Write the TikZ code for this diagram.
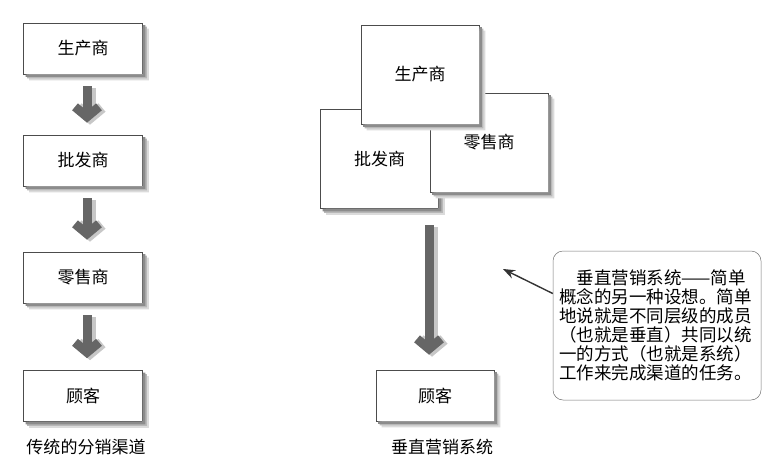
\documentclass[tikz,border=0pt]{standalone}
\usepackage{fontspec}
\setmainfont{Noto Sans CJK SC}
\usetikzlibrary{arrows.meta,positioning}

% soft shadow band along the right and lower edge of a node
\newcommand{\shadowof}[1]{%
  \foreach \sw/\sc in {6pt/black!14,4pt/black!28,2.5pt/black!45}
    \fill[\sc] ([yshift=-\sw]#1.north east) -- ([xshift=\sw,yshift=-\sw]#1.north east)
      -- ([xshift=\sw,yshift=-\sw]#1.south east) -- ([xshift=\sw,yshift=-\sw]#1.south west)
      -- ([xshift=\sw]#1.south west) -- (#1.south east) -- cycle;}

\begin{document}
\begin{tikzpicture}
  [x=1pt,y=1pt,font=\fontsize{17}{19}\selectfont,
   every node/.style={inner sep=0pt},
   >={Straight Barb[length=10pt,width=24pt]}]
  \tikzstyle{box} = [draw=black!70,line width=.6pt,fill=white,minimum width=119pt,minimum height=51pt]
  \tikzstyle{bigbox} = [box,minimum width=118pt,minimum height=99pt]
  \tikzstyle{flow} = [draw=black!60,line width=9pt,->,line join=miter,
     preaction={draw=black!22,line width=11pt,->,transform canvas={xshift=3pt,yshift=-2pt}}]
  \useasboundingbox (0,0) rectangle (779,-471);

  % traditional channel
  \node[box] (p1) at (83,-48.5)  {生产商};
  \node[box] (p2) at (83,-160.5) {批发商};
  \node[box] (p3) at (83,-277.5) {零售商};
  \node[box] (p4) at (83,-396)   {顾客};
  \node (cap1) at (86,-447) {传统的分销渠道};
  \foreach \n in {p1,p2,p3,p4} \shadowof{\n};

  \foreach \source /\dest in {p1/p2,p2/p3,p3/p4}
    \draw[flow,shorten <=12pt,shorten >=12pt] ([xshift=4pt]\source.south) -- ([xshift=4pt]\dest.north);

  % vertical marketing system
  \node[bigbox] (w2) at (379.5,-159) {批发商};
  \shadowof{w2}
  \node[bigbox] (r2) at (489,-142.5) {零售商};
  \shadowof{r2}
  \node[bigbox] (m2) at (420,-74.5)  {生产商};
  \shadowof{m2}
  \node[box,minimum width=118pt] (c2) at (435,-395.5) {顾客};
  \shadowof{c2}
  \node (cap2) at (442,-447) {垂直营销系统};

  \coordinate (vtop) at (429,-225);
  \draw[flow,shorten >=15pt] (vtop) -- (vtop |- c2.north);

  % note
  \node[draw=black!55,line width=.5pt,rounded corners=10pt,minimum width=208pt,minimum height=149pt,
        text width=196pt,align=left,font=\fontsize{17.5}{19}\selectfont] (note) at (657,-325.5)
    {\hspace*{1em}垂直营销系统——简单\\概念的另一种设想。简单\\地说就是不同层级的成员\\（也就是垂直）共同以统\\一的方式（也就是系统）\\工作来完成渠道的任务。};
  \coordinate (ptr) at (503,-269);
  \draw[black!80,line width=1.4pt,-{Stealth[length=12pt,width=9pt]}] ([yshift=32pt]note.west) -- (ptr);
\end{tikzpicture}
\end{document}
